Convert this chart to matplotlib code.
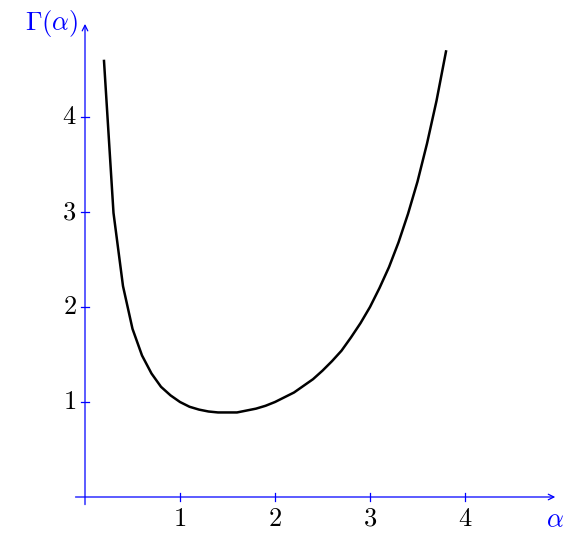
import matplotlib
matplotlib.use("Agg")
import matplotlib.pyplot as plt

plt.rcParams["mathtext.fontset"] = "cm"

# curve points
alpha = [0.2, 0.3, 0.4, 0.5, 0.6, 0.7, 0.8, 0.9, 1.0, 1.1, 1.2, 1.3, 1.4, 1.5,
         1.6, 1.7, 1.8, 1.9, 2.0, 2.1, 2.2, 2.3, 2.4, 2.5, 2.6, 2.7, 2.8, 2.9,
         3.0, 3.1, 3.2, 3.3, 3.4, 3.5, 3.6, 3.7, 3.8]
gamma = [4.59, 2.99, 2.22, 1.77, 1.49, 1.30, 1.16, 1.07, 1.00, 0.95, 0.92, 0.90,
         0.89, 0.89, 0.89, 0.91, 0.93, 0.96, 1.00, 1.05, 1.10, 1.17, 1.24, 1.33,
         1.43, 1.54, 1.68, 1.83, 2.00, 2.20, 2.42, 2.68, 2.98, 3.32, 3.72, 4.17, 4.69]
ticks = [1, 2, 3, 4]

fig = plt.figure(figsize=(5.77, 5.42), dpi=100)
ax = fig.add_axes([0, 0, 1, 1])
ax.set_xlim(-85 / 95, (577 - 85) / 95)
ax.set_ylim((497 - 542) / 95, 497 / 95)
ax.axis("off")

blue = "#0000ff"
arrow = dict(arrowstyle="->", color=blue, lw=0.9, shrinkA=0, shrinkB=0)
ax.annotate("", xy=(4.95, 0), xytext=(-0.1, 0), arrowprops=arrow)
ax.annotate("", xy=(0, 4.98), xytext=(0, -0.08), arrowprops=arrow)

d = 0.045
for t in ticks:
    ax.plot([t, t], [-d, d], color=blue, lw=0.9)
    ax.plot([-d, d], [t, t], color=blue, lw=0.9)
    ax.text(t, -0.09, f"${t}$", ha="center", va="top", fontsize=19)
    ax.text(-0.09, t, f"${t}$", ha="right", va="center", fontsize=19)

ax.text(4.95, -0.11, r"$\alpha$", color=blue, ha="center", va="top", fontsize=19)
ax.text(-0.07, 4.98, r"$\Gamma(\alpha)$", color=blue, ha="right", va="center", fontsize=19)

ax.plot(alpha, gamma, color="black", lw=1.8)

fig.savefig("out.png", dpi=100)
